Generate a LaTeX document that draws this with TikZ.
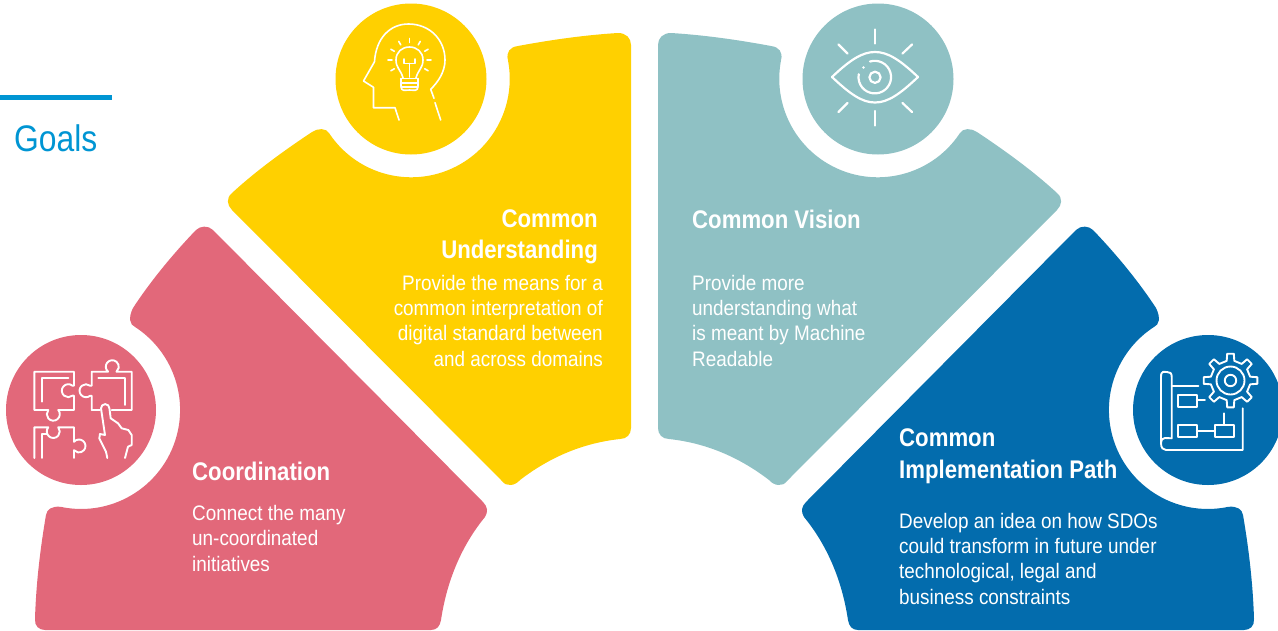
\documentclass[tikz,border=0pt]{standalone}
\usepackage{fontspec}
\setmainfont{Liberation Sans}[FakeStretch=0.87]
\newfontfamily\bodyfont{Liberation Sans}[FakeStretch=0.9]
\newfontfamily\goalsfont{Liberation Sans}[FakeStretch=0.86]
\definecolor{cRed}{HTML}{E2687A}
\definecolor{cYellow}{HTML}{FFD000}
\definecolor{cTeal}{HTML}{8FC1C4}
\definecolor{cBlue}{HTML}{036CAD}
\definecolor{cGoals}{HTML}{0095D3}
\tikzset{
  heading/.style={inner sep=0pt,text=white,font=\bfseries\fontsize{25.5}{31}\selectfont},
  bodytext/.style={inner sep=0pt,text=white,font=\bodyfont\fontsize{21}{25.3}\selectfont},
  icon/.style={draw=white,line width=1.6pt,line cap=round,line join=round},
  iconmid/.style={draw=white,line width=1.9pt,line cap=round,line join=round},
  iconthick/.style={draw=white,line width=2.2pt,line cap=round,line join=round},
}
\newcommand{\yellowpetal}{(518,46) .. controls (550,40) and (585,35) .. (618,33) .. controls (626,33) and (631,38) .. (631,45) -- (631,428) .. controls (631,434) and (627,439) .. (620,439) .. controls (583,443) and (550,457) .. (520,480) .. controls (515,486) and (506,487) .. (502,481) -- (232,210) .. controls (227,205) and (226,198) .. (232,193) .. controls (257,170) and (285,150) .. (312,132) .. controls (318,128) and (326,128) .. (329,133) arc[start angle=146.6,end angle=-11,radius=98.5] .. controls (506,52) and (510,47) .. (518,46) -- cycle}
\newcommand{\redpetal}{(196,230) .. controls (200,226) and (208,225) .. (213,230) -- (483,502) .. controls (488,507) and (488,512) .. (485,517) .. controls (462,545) and (447,580) .. (441,620) .. controls (440,626) and (437,630) .. (431,630) -- (45,630) .. controls (39,630) and (34.5,626) .. (35,619) .. controls (36,585) and (40,550) .. (46,515) .. controls (47,509) and (52,506) .. (60.5,506.8) arc[start angle=102,end angle=-57,radius=99] .. controls (130,325) and (128,318) .. (133,308) .. controls (150,282) and (172,255) .. (196,230) -- cycle}
\begin{document}
\begin{tikzpicture}[x=1pt,y=1pt,yscale=-1]
\useasboundingbox (0,0) rectangle (1278,630);
\clip (0,0) rectangle (1278,630);
% petals
\fill[cYellow] \yellowpetal;
\fill[cRed] \redpetal;
\begin{scope}[xshift=1289pt,xscale=-1]
\fill[cTeal] \yellowpetal;
\fill[cBlue] \redpetal;
\end{scope}
% circles
\fill[cRed] (81,410) circle[radius=75];
\fill[cYellow] (411,79) circle[radius=75.5];
\fill[cTeal] (878,79) circle[radius=75.5];
\fill[cBlue] (1208,410) circle[radius=75];
% goals
\fill[cGoals] (0,94.5) rectangle (112,100);
\node[anchor=base west,inner sep=0pt,text=cGoals,font=\goalsfont\fontsize{37}{40}\selectfont] (goals) at (14,151) {Goals};
% texts
\node[heading,anchor=base east] (yh1) at (598,227) {Common};
\node[heading,anchor=base east] (yh2) at (598,258.5) {Understanding};
\node[bodytext,anchor=base east,align=right] (yb) at (603,366) {Provide the means for a\\common interpretation of\\digital standard between\\and across domains};
\node[heading,anchor=base west] (th) at (692,228) {Common Vision};
\node[bodytext,anchor=base west,align=left] (tb) at (692,366) {Provide more\\understanding what\\is meant by Machine\\Readable};
\node[heading,anchor=base west] (rh) at (192,480) {Coordination};
\node[bodytext,anchor=base west,align=left] (rb) at (192,571) {Connect the many\\un-coordinated\\initiatives};
\node[heading,anchor=base west] (bh1) at (899,446.5) {Common};
\node[heading,anchor=base west] (bh2) at (899,478) {Implementation Path};
\node[bodytext,anchor=base west,align=left] (bb) at (899,604) {Develop an idea on how SDOs\\could transform in future under\\technological, legal and\\business constraints};
% eye icon
\begin{scope}[iconthick]
\draw (832,77) .. controls (850,60) and (862,52) .. (875,52) .. controls (888,52) and (900,60) .. (918,77) .. controls (900,94) and (888,102.5) .. (875,102.5) .. controls (862,102.5) and (850,94) .. (832,77) -- cycle;
\draw (875,77.3) circle[radius=5.6];
\draw (870,61.5) arc[start angle=-107,end angle=190,radius=16.3];
\fill[white] (863.5,67.5) circle[radius=1.4];
\draw (875,29.5) -- (875,43.5);
\draw (875,111) -- (875,125.5);
\draw (838.5,44.5) -- (847.5,53.5);
\draw (912,44.5) -- (902.5,53.5);
\draw (838.5,112) -- (847.5,103);
\draw (912,112) -- (902.5,103);
\end{scope}
% head icon
\begin{scope}[icon]
\draw (399,120) -- (395,107.7) -- (373.5,107.7) -- (373.5,87.3) -- (363.5,81) -- (374.5,61.7) .. controls (376,38) and (390,24) .. (408.5,24) .. controls (430,24) and (445,40) .. (445,60) .. controls (445,72) and (438,82) .. (430.7,89.3) -- (434,98.3);
\draw (435,102.7) -- (440.7,120);
\draw (403,78) .. controls (401,70) and (396,68) .. (396,60) .. controls (396,52) and (402,47) .. (409.5,47) .. controls (417,47) and (423,52) .. (423,60) .. controls (423,68) and (418,70) .. (416,78);
\draw (401,78.5) -- (418,78.5) (401,83) -- (418,83) (401,87) -- (418,87);
\draw (401,78.5) -- (401,86) .. controls (401,92) and (405,90) .. (409.5,90) .. controls (414,90) and (418,92) .. (418,86) -- (418,78.5);
\draw (404,59) -- (404,63.5) -- (415,63.5) -- (415,59) (409.5,63.5) -- (409.5,77);
\foreach \a in {-180,-150,-120,-90,-60,-30,0,30,150}
  \draw ([shift={(409.5,60)}]\a:17.5) -- ([shift={(409.5,60)}]\a:21.5);
\end{scope}
% puzzle icon
\begin{scope}[iconmid]
\draw (74,385.7) -- (72.5,385.7) arc[start angle=-50,end angle=-310,radius=6.5] -- (74,395.7) -- (74,410) -- (58.3,410) arc[start angle=-40,end angle=220,radius=6.5] -- (34.3,410) -- (34.3,371.7) -- (74,371.7) -- cycle;
\draw (41.7,401.7) -- (41.7,378.3) -- (68.5,378.3);
\draw (100,410) -- (91.7,410) -- (91.7,395.7) -- (90.2,395.7) arc[start angle=50,end angle=310,radius=6.5] -- (91.7,385.7) -- (91.7,371.7) -- (108.1,371.7) arc[start angle=130,end angle=410,radius=6.5] -- (131.7,371.7) -- (131.7,410) -- (111.7,410);
\draw (98.3,378.3) -- (125,378.3) -- (125,405);
\draw (34.3,458) -- (34.3,427.3) -- (48.3,427.3) arc[start angle=220,end angle=-40,radius=6.5] -- (74,427.3) -- (74,441.8) arc[start angle=220,end angle=500,radius=6.5] -- (74,458);
\draw (41.7,458) -- (41.7,434) -- (46.7,434);
\draw (107.3,458) -- (106,451.7) -- (99.3,438.3) -- (100,434) -- (105,435) -- (101,408.3) arc[start angle=180,end angle=360,radius=4.2] -- (110.7,418.3) -- (118,423.3) -- (121.7,428.3) -- (128.3,430) -- (131.7,435) -- (131.7,445) -- (128,446.7) -- (125,458);
\end{scope}
% gear and plan icon
\begin{scope}[iconmid]
\draw ([shift={(1230.5,380.5)}]-83:27) \foreach \a in {-90,-45,0,45,90,135,180,225} {
  -- ([shift={(1230.5,380.5)}]\a+7:27) -- ([shift={(1230.5,380.5)}]\a+11:20) -- ([shift={(1230.5,380.5)}]\a+34:20) -- ([shift={(1230.5,380.5)}]\a+38:27)
} -- cycle;
\draw (1230.5,380.5) circle[radius=14];
\draw (1230.5,380.5) circle[radius=5.7];
\draw (1161,443) -- (1161,376.7) .. controls (1161,370) and (1165,372) .. (1167,372) .. controls (1170,372) and (1171.7,373) .. (1171.7,376.7) -- (1171.7,438.3) -- (1165,438) .. controls (1162,438) and (1161,440) .. (1161,443) .. controls (1161,448) and (1163,450) .. (1166,450) -- (1242.7,450) -- (1242.7,408.3);
\draw (1171.7,386) -- (1198.3,386);
\draw (1178.3,395) rectangle (1196.7,407.3);
\draw (1196.7,400) -- (1205,400);
\draw (1178.3,425) rectangle (1196.7,436.7);
\draw (1196.7,430.7) -- (1215,430.7);
\draw (1215,425) rectangle (1234,436.7);
\draw (1224,425) -- (1224,413.3);
\end{scope}
\end{tikzpicture}
\end{document}
